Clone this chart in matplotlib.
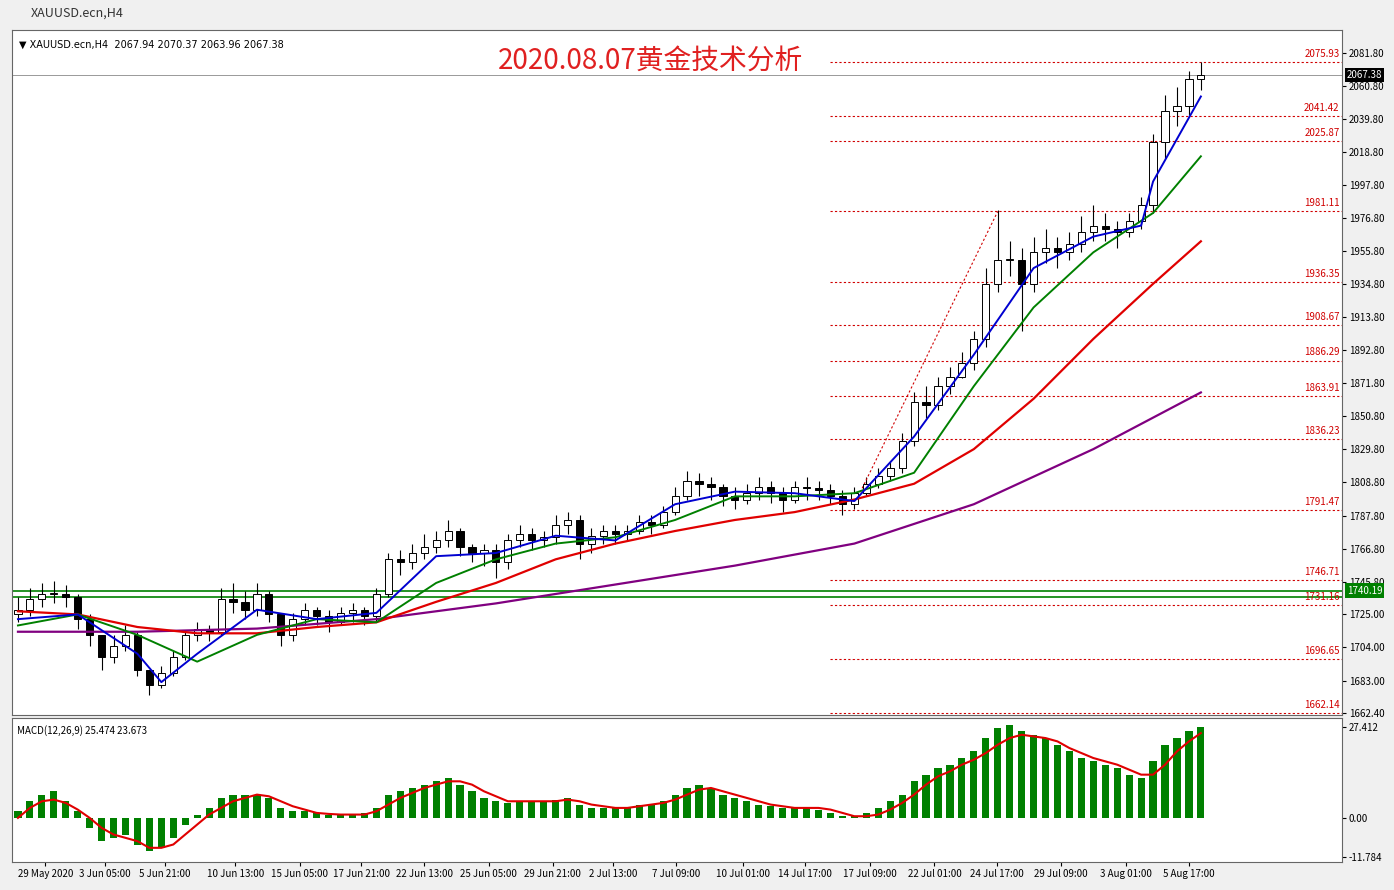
import matplotlib.pyplot as plt
import numpy as np

plt.rcParams['font.family'] = ['Noto Sans CJK SC', 'DejaVu Sans']

# ~100 candles (each one stands for roughly 3 H4 bars of the original)
closes = [1728, 1735, 1738, 1738, 1736, 1722, 1712, 1698, 1705, 1712,
          1690, 1680, 1688, 1698, 1712, 1716, 1714, 1735, 1733, 1728,
          1738, 1725, 1712, 1722, 1728, 1724, 1720, 1726, 1728, 1724,
          1738, 1760, 1758, 1764, 1768, 1772, 1778, 1768, 1764, 1766,
          1758, 1772, 1776, 1772, 1774, 1782, 1785, 1770, 1775, 1778,
          1776, 1778, 1784, 1782, 1790, 1800, 1810, 1808, 1806, 1800,
          1798, 1802, 1806, 1802, 1798, 1806, 1805, 1804, 1800, 1795,
          1802, 1808, 1813, 1818, 1835, 1860, 1858, 1870, 1876, 1885,
          1900, 1935, 1950, 1950, 1935, 1955, 1958, 1955, 1960, 1968,
          1972, 1970, 1968, 1975, 1985, 2025, 2045, 2048, 2065, 2067.38]
highs = [1736, 1742, 1745, 1746, 1744, 1738, 1725, 1712, 1712, 1718,
         1714, 1690, 1692, 1702, 1715, 1720, 1718, 1742, 1745, 1740,
         1745, 1740, 1726, 1726, 1732, 1730, 1728, 1730, 1732, 1730,
         1742, 1764, 1766, 1770, 1776, 1778, 1785, 1780, 1770, 1770,
         1770, 1776, 1782, 1780, 1778, 1788, 1790, 1788, 1780, 1782,
         1782, 1782, 1788, 1788, 1794, 1806, 1816, 1815, 1812, 1808,
         1806, 1808, 1812, 1810, 1806, 1810, 1812, 1810, 1808, 1804,
         1806, 1812, 1818, 1822, 1840, 1866, 1870, 1876, 1882, 1892,
         1905, 1945, 1982, 1962, 1958, 1965, 1970, 1965, 1968, 1978,
         1985, 1980, 1975, 1980, 1990, 2030, 2055, 2060, 2070, 2076]
lows = [1720, 1724, 1730, 1732, 1730, 1716, 1705, 1690, 1694, 1702,
        1686, 1674, 1678, 1686, 1696, 1708, 1708, 1712, 1726, 1722,
        1724, 1720, 1705, 1708, 1718, 1718, 1714, 1718, 1720, 1718,
        1720, 1736, 1750, 1754, 1760, 1764, 1768, 1762, 1758, 1756,
        1748, 1754, 1768, 1766, 1768, 1770, 1776, 1760, 1764, 1770,
        1770, 1772, 1776, 1776, 1780, 1788, 1798, 1800, 1798, 1794,
        1792, 1795, 1798, 1796, 1790, 1796, 1798, 1798, 1795, 1788,
        1792, 1800, 1805, 1810, 1815, 1832, 1850, 1855, 1865, 1875,
        1880, 1895, 1930, 1940, 1905, 1930, 1948, 1945, 1950, 1955,
        1962, 1962, 1958, 1965, 1970, 1980, 2015, 2035, 2042, 2058]
first_open = 1725

# moving averages read at every 5th / 10th candle
ma_fast_x = [0, 5, 10, 12, 15, 20, 25, 30, 35, 40, 45, 50, 55, 60, 65, 70, 75, 80, 85, 90, 94, 95, 99]
ma_fast_y = [1722, 1725, 1700, 1682, 1700, 1728, 1722, 1726, 1762, 1764, 1775, 1772, 1795, 1803,
             1802, 1797, 1838, 1890, 1945, 1965, 1972, 2000, 2054]
ma_mid_x = [0, 5, 10, 15, 20, 25, 30, 35, 40, 45, 50, 55, 60, 65, 70, 75, 80, 85, 90, 95, 99]
ma_mid_y = [1718, 1725, 1712, 1695, 1712, 1722, 1720, 1745, 1760, 1770, 1774, 1785, 1800, 1800,
            1802, 1815, 1870, 1920, 1955, 1980, 2016]
ma_slow_x = [0, 5, 10, 15, 20, 25, 30, 35, 40, 45, 50, 55, 60, 65, 70, 75, 80, 85, 90, 95, 99]
ma_slow_y = [1727, 1725, 1717, 1713, 1713, 1717, 1720, 1733, 1745, 1760, 1770, 1778, 1785, 1790,
             1798, 1808, 1830, 1862, 1900, 1935, 1962]
ma_long_x = [0, 10, 20, 30, 40, 50, 60, 70, 80, 90, 99]
ma_long_y = [1714, 1714, 1716, 1722, 1732, 1744, 1756, 1770, 1795, 1830, 1866]

fib_levels = [2075.93, 2041.42, 2025.87, 1981.11, 1936.35, 1908.67, 1886.29, 1863.91,
              1836.23, 1791.47, 1746.71, 1731.16, 1696.65, 1662.14]
green_levels = [1740.19, 1736.0]

macd_hist = [2, 5, 7, 8, 5, 2, -3, -7, -6, -5, -8, -10, -9, -6, -2, 1, 3, 6, 7, 7,
             7, 6, 3, 2, 2, 1.5, 1, 1, 1, 1.5, 3, 7, 8, 9, 10, 11, 12, 10, 8, 6,
             5, 4.5, 5, 5, 5, 5.5, 6, 4, 3, 3, 3, 3, 4, 4, 5, 7, 9, 10, 9, 7,
             6, 5, 4, 3.5, 3, 3, 3, 2.5, 1.5, 0.5, 0.5, 1.5, 3, 5, 7, 11, 13, 15, 16, 18,
             20, 24, 27, 28, 26, 25, 24, 22, 20, 18, 17, 16, 15, 13, 12, 17, 22, 24, 26, 27.4]
macd_signal = [0, 3, 5, 5.5, 4.5, 2.5, 0, -3, -5, -6, -7, -9, -9, -8, -5, -2, 1, 3, 5, 6,
               7, 6.5, 5, 3.5, 2.5, 1.5, 1.2, 1, 1, 1, 2, 4, 6, 7.5, 9, 10, 11, 11, 10, 8,
               6.5, 5, 5, 5, 5, 5, 5.5, 5, 4, 3.5, 3, 3, 3.5, 4, 4.5, 5.5, 7, 8.5, 9, 8,
               7, 6, 5, 4, 3.5, 3, 3, 3, 2.5, 1.5, 0.5, 0.5, 1, 2.5, 4.5, 7, 10, 12.5, 14, 16,
               17.5, 19.5, 22, 24, 25, 24.5, 24, 23, 21, 19.5, 18, 17, 16, 14.5, 13, 13, 16, 20, 23, 25.5]

date_pos = [2.3, 7.3, 12.3, 18.2, 23.6, 28.75, 34, 39.4, 44.75, 49.8, 55.1, 60.7, 65.9,
            71.3, 76.7, 81.9, 87.3, 92.7, 98]
date_labels = ['29 May 2020', '3 Jun 05:00', '5 Jun 21:00', '10 Jun 13:00', '15 Jun 05:00',
               '17 Jun 21:00', '22 Jun 13:00', '25 Jun 05:00', '29 Jun 21:00', '2 Jul 13:00',
               '7 Jul 09:00', '10 Jul 01:00', '14 Jul 17:00', '17 Jul 09:00', '22 Jul 01:00',
               '24 Jul 17:00', '29 Jul 09:00', '3 Aug 01:00', '5 Aug 17:00']
price_ticks = [2081.80, 2060.80, 2039.80, 2018.80, 1997.80, 1976.80, 1955.80, 1934.80, 1913.80,
               1892.80, 1871.80, 1850.80, 1829.80, 1808.80, 1787.80, 1766.80, 1745.80, 1725.00,
               1704.00, 1683.00, 1662.40]

fig = plt.figure(figsize=(13.94, 8.9), dpi=100)
fig.patch.set_facecolor('#f0f0f0')
fig.text(0.022, 0.985, 'XAUUSD.ecn,H4', fontsize=9, va='center', color='#333333')

ax = fig.add_axes([0.0086, 0.1966, 0.954, 0.77])
ax2 = fig.add_axes([0.0086, 0.0315, 0.954, 0.162], sharex=ax)
for a in (ax, ax2):
    a.set_facecolor('white')
    for s in a.spines.values():
        s.set_color('#666666')
        s.set_linewidth(0.8)

n = len(closes)
idx = np.arange(n)
opens = [first_open] + closes[:-1]
for i in range(n):
    o, c = opens[i], closes[i]
    ax.vlines(i, lows[i], highs[i], color='black', lw=0.8, zorder=2)
    up = c >= o
    ax.bar(i, max(abs(c - o), 0.6), bottom=min(o, c), width=0.6,
           color='white' if up else 'black', edgecolor='black', lw=0.7, zorder=3)

ax.plot(ma_long_x, ma_long_y, color='#800080', lw=1.6, zorder=4)
ax.plot(ma_slow_x, ma_slow_y, color='#e00000', lw=1.6, zorder=4)
ax.plot(ma_mid_x, ma_mid_y, color='#008000', lw=1.4, zorder=4)
ax.plot(ma_fast_x, ma_fast_y, color='#0000d0', lw=1.4, zorder=4)

for lv in fib_levels:
    ax.hlines(lv, 68, 110.8, color='#d00000', lw=0.8, linestyles=(0, (2, 2)), zorder=1)
    ax.text(110.6, lv + 2, f'{lv:.2f}', color='#d00000', fontsize=7, ha='right', va='bottom')
ax.plot([70, 82], [1795, 1981], color='#d00000', lw=0.8, ls=(0, (2, 2)))
for lv in green_levels:
    ax.axhline(lv, color='#008000', lw=1.2, zorder=1)
ax.axhline(closes[-1], color='#999999', lw=0.7, zorder=1)

ax.set_xlim(-0.5, 110.8)
ax.set_ylim(1661.1, 2096.4)
ax.yaxis.tick_right()
ax.set_yticks(price_ticks)
ax.set_yticklabels([f'{t:.2f}' for t in price_ticks], fontsize=7)
ax.tick_params(axis='y', length=3, pad=2)
ax.tick_params(axis='x', bottom=False, labelbottom=False)
ax.text(111.2, closes[-1], f'{closes[-1]:.2f}', fontsize=7, color='white', va='center',
        bbox=dict(facecolor='black', edgecolor='none', pad=1.5), clip_on=False)
ax.text(111.2, 1740.19, '1740.19', fontsize=7, color='white', va='center',
        bbox=dict(facecolor='#008000', edgecolor='none', pad=1.5), clip_on=False)
ax.text(0.005, 0.985, '▼ XAUUSD.ecn,H4  2067.94 2070.37 2063.96 2067.38', transform=ax.transAxes,
        fontsize=7, va='top', family=['DejaVu Sans'])
ax.text(0.48, 0.955, '2020.08.07黄金技术分析', transform=ax.transAxes, fontsize=20,
        color='#e02020', ha='center', va='center')

ax2.bar(idx, macd_hist, width=0.6, color='#008000')
ax2.plot(idx, macd_signal, color='#e00000', lw=1.5)
ax2.set_ylim(-13.25, 30.1)
ax2.yaxis.tick_right()
ax2.set_yticks([27.412, 0.0, -11.784])
ax2.set_yticklabels(['27.412', '0.00', '-11.784'], fontsize=7)
ax2.tick_params(axis='y', length=3, pad=2)
ax2.set_xticks(date_pos)
ax2.set_xticklabels(date_labels, fontsize=7)
ax2.tick_params(axis='x', length=3, pad=2)
ax2.text(0.004, 0.95, 'MACD(12,26,9) 25.474 23.673', transform=ax2.transAxes, fontsize=7, va='top')

fig.savefig('out.png', dpi=100, facecolor=fig.get_facecolor())
